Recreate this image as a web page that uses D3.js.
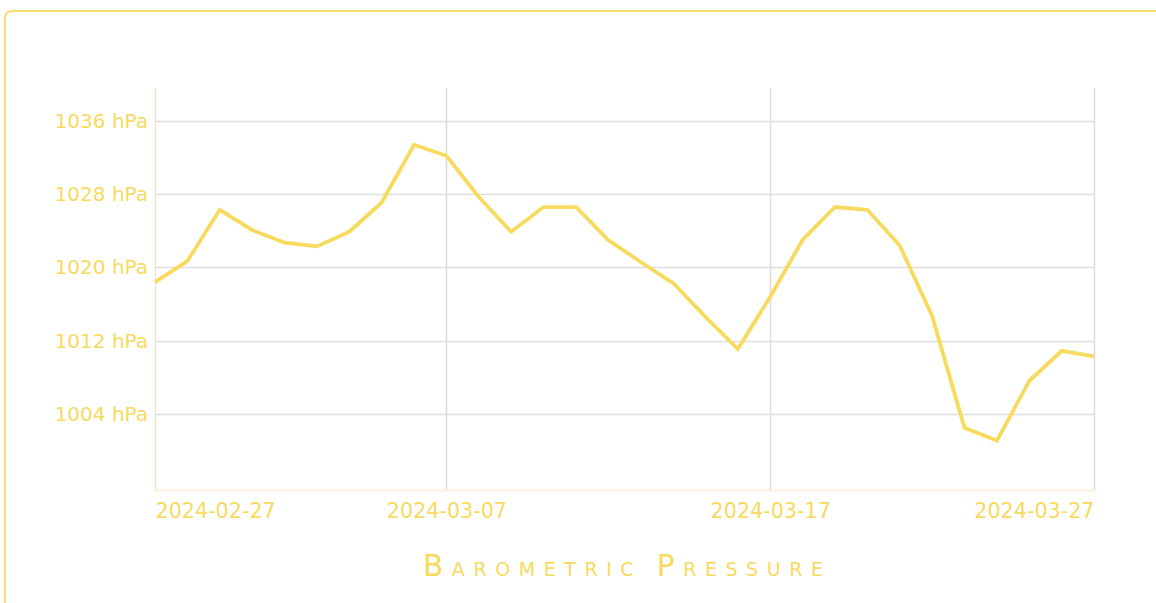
<!DOCTYPE html>
<html>
<head>
<meta charset="utf-8">
<script src="https://cdn.jsdelivr.net/npm/d3@7"></script>
<style>
  html, body { margin: 0; padding: 0; background: #fff; overflow: hidden; }
  text { font-family: "DejaVu Sans", Verdana, sans-serif; }
</style>
</head>
<body>
<svg id="chart" width="1156" height="603"></svg>
<script>
// data
const dates = [
  "2024-02-27","2024-02-28","2024-02-29","2024-03-01","2024-03-02","2024-03-03",
  "2024-03-04","2024-03-05","2024-03-06","2024-03-07","2024-03-08","2024-03-09",
  "2024-03-10","2024-03-11","2024-03-12","2024-03-13","2024-03-14","2024-03-15",
  "2024-03-16","2024-03-17","2024-03-18","2024-03-19","2024-03-20","2024-03-21",
  "2024-03-22","2024-03-23","2024-03-24","2024-03-25","2024-03-26","2024-03-27"
];
const pressure = [
  1018.4, 1020.7, 1026.3, 1024.1, 1022.7, 1022.3,
  1023.9, 1027.1, 1033.4, 1032.2, 1027.7, 1023.9,
  1026.6, 1026.6, 1023.0, 1020.6, 1018.3, 1014.6,
  1011.1, 1016.8, 1023.0, 1026.6, 1026.3, 1022.4,
  1014.7, 1002.5, 1001.1, 1007.6, 1010.9, 1010.3
];
const yTicks = [1004, 1012, 1020, 1028, 1036];
const xTicks = ["2024-02-27", "2024-03-07", "2024-03-17", "2024-03-27"];
const title = "Barometric Pressure";

const parse = d3.timeParse("%Y-%m-%d");
const fmt = d3.timeFormat("%Y-%m-%d");
const data = dates.map((d, i) => ({ date: parse(d), value: pressure[i] }));

const yellow = "#f7da5e";
const svg = d3.select("#chart");

// outer card border (runs off the right / bottom edge)
svg.append("rect")
  .attr("x", 5).attr("y", 11)
  .attr("width", 1200).attr("height", 700)
  .attr("rx", 7)
  .attr("fill", "none")
  .attr("stroke", "#f9de6c")
  .attr("stroke-width", 2);

const plotL = 155, plotR = 1094, plotT = 88, plotB = 490;

const x = d3.scaleTime()
  .domain(d3.extent(data, d => d.date))
  .range([plotL, plotR]);

const y = d3.scaleLinear()
  .domain([995.7, 1039.6])
  .range([plotB, plotT]);

// horizontal grid
svg.append("g")
  .selectAll("line")
  .data(yTicks)
  .enter()
  .append("line")
  .attr("x1", plotL).attr("x2", plotR)
  .attr("y1", d => Math.round(y(d)) + 0.5)
  .attr("y2", d => Math.round(y(d)) + 0.5)
  .attr("stroke", "#dedede")
  .attr("stroke-width", 1.5);

// vertical grid
svg.append("g")
  .selectAll("line")
  .data(xTicks.slice(1))
  .enter()
  .append("line")
  .attr("x1", d => Math.round(x(parse(d))) + 0.5)
  .attr("x2", d => Math.round(x(parse(d))) + 0.5)
  .attr("y1", plotT).attr("y2", plotB)
  .attr("stroke", "#dcdcdc")
  .attr("stroke-width", 1.5);

// y axis
const yAxis = svg.append("g")
  .attr("transform", `translate(${plotL},0)`)
  .call(d3.axisLeft(y).tickValues(yTicks).tickSize(0).tickPadding(7)
    .tickFormat(d => `${d} hPa`));
yAxis.select(".domain")
  .attr("d", `M0.5,${plotT}V${plotB}`)
  .attr("stroke", "#ece5cd")
  .attr("stroke-width", 1.5);
yAxis.selectAll("text")
  .attr("fill", yellow)
  .style("font-size", "20px");

// x axis
const xAxis = svg.append("g")
  .attr("transform", `translate(0,${plotB})`)
  .call(d3.axisBottom(x).tickValues(xTicks.map(parse)).tickSize(0).tickPadding(10)
    .tickFormat(fmt));
xAxis.select(".domain")
  .attr("d", `M${plotL},0.5H${plotR}`)
  .attr("stroke", "#faf3da")
  .attr("stroke-width", 2);
xAxis.selectAll("text")
  .attr("fill", yellow)
  .attr("dy", "0.85em")
  .style("font-size", "20.7px")
  .attr("text-anchor", (d, i, n) => i === 0 ? "start" : (i === n.length - 1 ? "end" : "middle"));

// line
const line = d3.line()
  .x(d => x(d.date))
  .y(d => y(d.value));

svg.append("path")
  .datum(data)
  .attr("d", line)
  .attr("fill", "none")
  .attr("stroke", yellow)
  .attr("stroke-width", 3.8)
  .attr("stroke-linejoin", "miter");

// title, drawn as small caps: big initial letters, small uppercase rest
const titleText = svg.append("text")
  .attr("x", 423)
  .attr("y", 576)
  .attr("text-anchor", "start")
  .attr("textLength", 400)
  .attr("lengthAdjust", "spacing")
  .attr("fill", yellow);

title.split(" ").forEach((word, wi) => {
  if (wi > 0) titleText.append("tspan").style("font-size", "19px").text(" ");
  titleText.append("tspan").style("font-size", "29.5px").text(word[0].toUpperCase());
  titleText.append("tspan").style("font-size", "19px").text(word.slice(1).toUpperCase());
});
</script>
</body>
</html>
